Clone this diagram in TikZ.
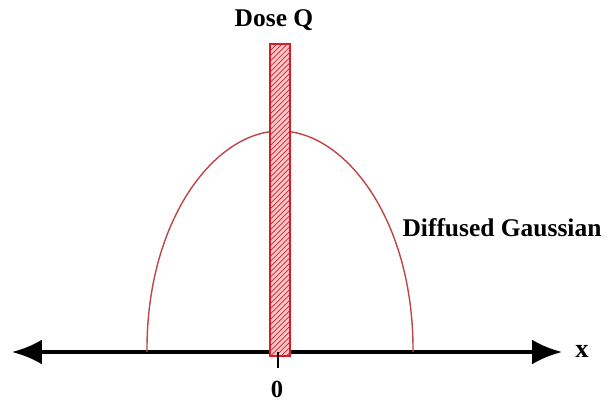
\documentclass[tikz,border=0pt]{standalone}
\usepackage{fontspec}
\setmainfont{Liberation Serif}
\usetikzlibrary{patterns,arrows.meta}
\definecolor{doseRed}{RGB}{210,30,40}
\definecolor{curveRed}{RGB}{190,70,70}

\begin{document}
\begin{tikzpicture}[x=0.02cm, y=-0.02cm, >={Latex[length=6mm,width=5mm]}]
    \useasboundingbox (0,0) rectangle (606,400);

    % axis
    \coordinate (axl) at (12,352);
    \coordinate (axr) at (562,352);
    \draw[<->, line width=2.2pt] (axl) -- (axr);

    % diffused profile
    \coordinate (gl) at (147,352);
    \coordinate (gt) at (280,131);
    \coordinate (gr) at (413,352);
    \draw[curveRed, line width=0.8pt] (gl) .. controls (146,220) and (215,131) .. (gt)
        .. controls (345,131) and (414,220) .. (gr);

    % dose bar
    \node (bar) at (280,200) [draw=doseRed, line width=0.8pt, minimum width=0.4cm, minimum height=6.24cm,
        inner sep=0pt, preaction={fill=red!22}, pattern=north east lines, pattern color=doseRed] {};

    % tick at origin
    \coordinate (t0) at (278,352);
    \coordinate (t1) at (278,368);
    \draw[line width=1.2pt] (t0) -- (t1);

    \node (dose) at (274,20) {\fontsize{14.5}{16}\selectfont\bfseries Dose Q};
    \node (gauss) at (502,228) {\fontsize{14.5}{16}\selectfont\bfseries Diffused Gaussian};
    \node (xlab) at (582,351) {\fontsize{15}{17}\selectfont\bfseries x};
    \node (zero) at (277,389) {\fontsize{14}{16}\selectfont\bfseries 0};
\end{tikzpicture}
\end{document}
